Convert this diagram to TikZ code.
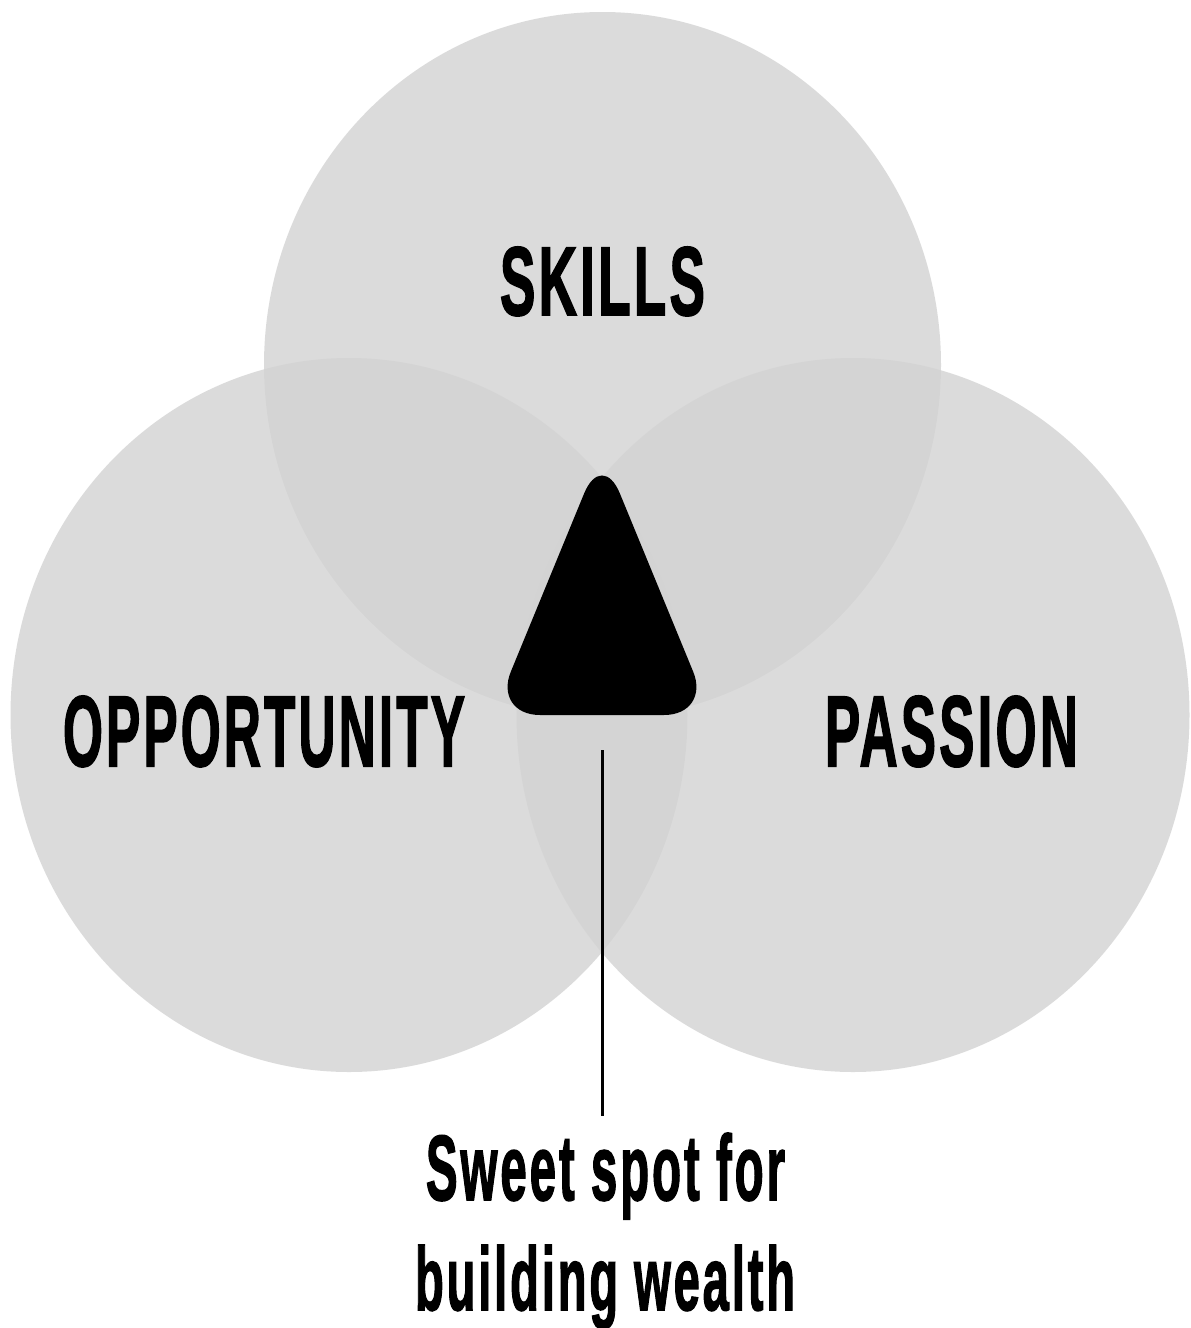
\documentclass[tikz,border=0pt]{standalone}
\usepackage{fontspec}
\usepackage{graphicx}
\setmainfont{Liberation Sans}[FakeBold=2, LetterSpace=6]
\usetikzlibrary{shapes.geometric}
\definecolor{venn}{RGB}{211,211,211}
\tikzset{
  venncircle/.style={ellipse, fill=venn, fill opacity=0.8, draw=none, inner sep=0pt},
  label/.style={inner sep=0pt, anchor=base, text=black, font=\bfseries},
  marker/.style={fill=black, rounded corners=47pt},
  leader/.style={draw=black, line width=3pt}
}
\begin{document}
\begin{tikzpicture}[x=1pt, y=-1pt]
\useasboundingbox (0,0) rectangle (1191,1328);
\fill[white] (0,0) rectangle (1191,1328);
% circles
\node[venncircle, minimum width=677pt, minimum height=706pt] (skills) at (602.5,365) {};
\node[venncircle, minimum width=677pt, minimum height=714pt] (opp) at (349,715) {};
\node[venncircle, minimum width=673pt, minimum height=714pt] (pas) at (853,715) {};
% sweet-spot marker
\fill[marker] (602,450) -- (711,715) -- (493,715) -- cycle;
% labels
\node[label] (tskills) at (602.5,315) {\resizebox{205pt}{68pt}{SKILLS}};
\node[label] (topp) at (264,766) {\resizebox{402pt}{70pt}{OPPORTUNITY}};
\node[label] (tpas) at (951.5,766) {\resizebox{253pt}{70pt}{PASSION}};
\node[label] (sweet1) at (605.5,1200) {\resizebox{359pt}{67pt}{Sweet spot for}};
\node[label] (sweet2) at (605,1310) {\resizebox{380pt}{65pt}{building wealth}};
% leader line
\coordinate (ltop) at (602,750);
\coordinate (lbot) at (602,1116);
\draw[leader] (ltop) -- (lbot);
\end{tikzpicture}
\end{document}
